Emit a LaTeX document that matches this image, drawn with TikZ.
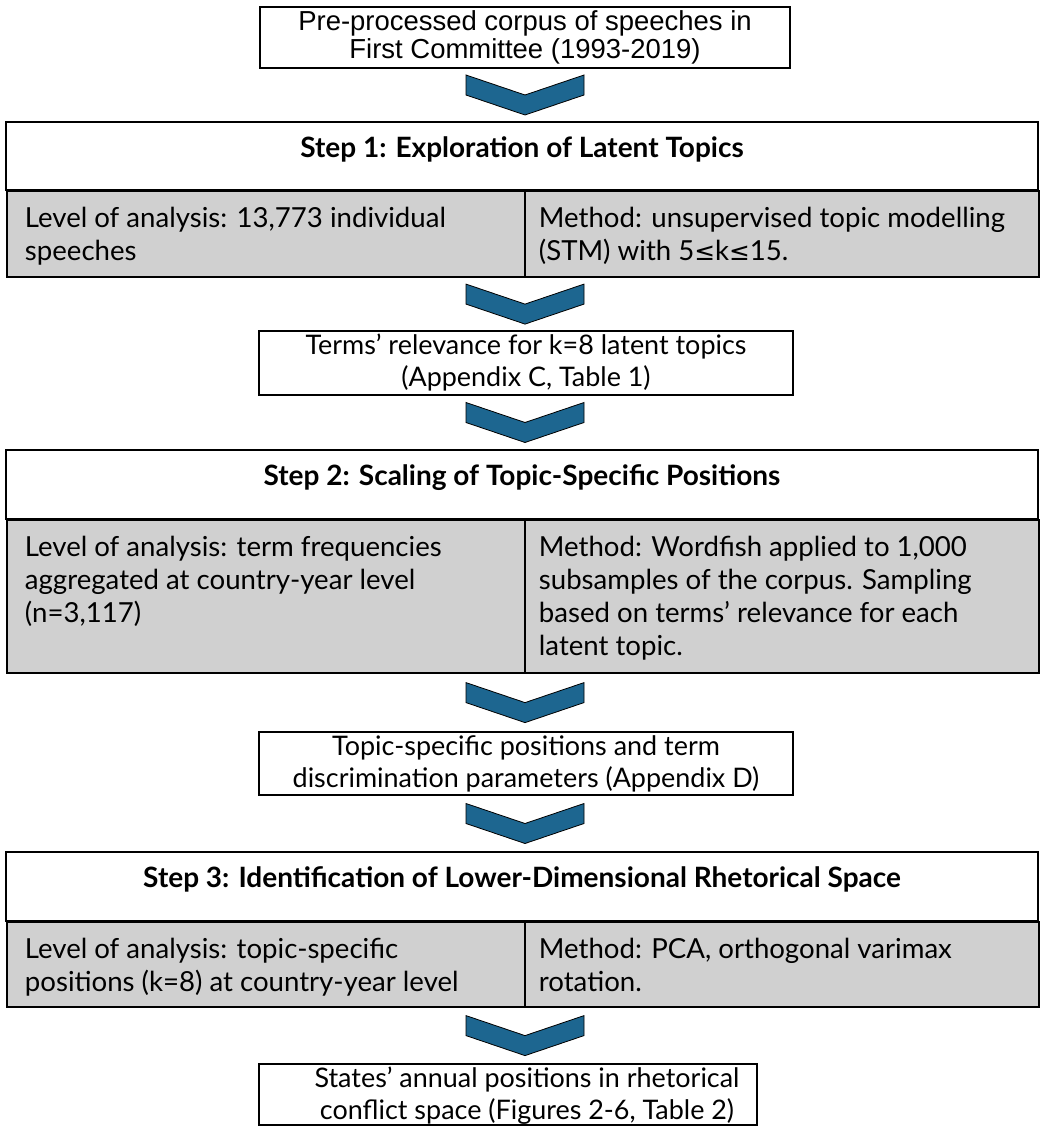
\documentclass[tikz,border=0pt]{standalone}
\usepackage{fontspec}
\setmainfont{Lato}
\newfontfamily\arialfont{Liberation Sans}
\newfontfamily\symfont[Scale=0.9]{DejaVu Sans}
\usetikzlibrary{calc}
\definecolor{chevblue}{HTML}{1D6690}
\definecolor{cellgray}{HTML}{D0D0D0}

\tikzset{
  plainbox/.style={draw, line width=1.8pt, align=center, inner sep=0pt, font=\fontsize{20.2}{24}\selectfont},
  boxtext/.style={align=center, inner sep=0pt, font=\fontsize{20.2}{24}\selectfont},
  hdrbox/.style={draw, line width=1.8pt, inner sep=0pt, text depth=14pt, font=\bfseries\fontsize{21}{24}\selectfont},
  cellbox/.style={draw, line width=1.8pt, fill=cellgray, inner sep=0pt, anchor=north west},
  celltext/.style={anchor=north west, align=left, inner xsep=14pt, inner ysep=12.5pt, font=\fontsize{20.7}{24.75}\selectfont},
  chevdown/.pic={
    \filldraw[fill=chevblue, draw=black, line width=0.6pt]
      (-59,-20) -- (0,0) -- (59,-20) -- (59,0) -- (0,20) -- (-59,0) -- cycle;
  }
}

\begin{document}
\begin{tikzpicture}[x=0.75pt, y=-0.75pt]
\useasboundingbox (0,0) rectangle (1040,1127);
\coordinate (axis) at (525,0);

% input
\node[plainbox, font=\arialfont\fontsize{20.6}{21.5}\selectfont, minimum width=397.5pt, minimum height=45.75pt] (corpus) at (525,37.5)
  {Pre-processed corpus of speeches in\\First Committee (1993-2019)};

% step 1
\node[hdrbox, minimum width=774pt, minimum height=51pt] (s1) at (522,156) {Step 1: Exploration of Latent Topics};
\node[cellbox, minimum width=388.5pt, minimum height=64.5pt] (s1l) at (6,190) {};
\node[cellbox, minimum width=385.5pt, minimum height=64.5pt] (s1r) at (524,190) {};
\node[celltext] (s1lt) at (s1l.north west) {Level of analysis: 13,773 individual\\speeches};
\node[celltext, inner xsep=11pt] (s1rt) at (s1r.north west) {Method: unsupervised topic modelling\\(STM) with 5{\symfont ≤}k{\symfont ≤}15.};

\node[plainbox, minimum width=400.5pt, minimum height=48pt] (terms) at (526,363)
  {Terms’ relevance for k=8 latent topics\\(Appendix C, Table 1)};

% step 2
\node[hdrbox, minimum width=774pt, minimum height=51.75pt] (s2) at (522,484.5) {Step 2: Scaling of Topic-Specific Positions};
\node[cellbox, minimum width=388.5pt, minimum height=114.75pt] (s2l) at (6,519) {};
\node[cellbox, minimum width=385.5pt, minimum height=114.75pt] (s2r) at (524,519) {};
\node[celltext] (s2lt) at (s2l.north west) {Level of analysis: term frequencies\\aggregated at country-year level\\(n=3,117)};
\node[celltext, inner xsep=11pt] (s2rt) at (s2r.north west) {Method: Wordfish applied to 1,000\\subsamples of the corpus. Sampling\\based on terms’ relevance for each\\latent topic.};

\node[plainbox, minimum width=400.5pt, minimum height=47.25pt] (params) at (526,763.5)
  {Topic-specific positions and term\\discrimination parameters (Appendix D)};

% step 3
\node[hdrbox, minimum width=774pt, minimum height=51.75pt] (s3) at (522,886.5) {Step 3: Identification of Lower-Dimensional Rhetorical Space};
\node[cellbox, minimum width=388.5pt, minimum height=63.75pt] (s3l) at (6,921) {};
\node[cellbox, minimum width=385.5pt, minimum height=63.75pt] (s3r) at (524,921) {};
\node[celltext] (s3lt) at (s3l.north west) {Level of analysis: topic-specific\\positions (k=8) at country-year level};
\node[celltext, inner xsep=11pt] (s3rt) at (s3r.north west) {Method: PCA, orthogonal varimax\\rotation.};

\node[plainbox, minimum width=373.5pt, minimum height=45.75pt] (states) at (508,1094.5) {};
\node[boxtext] (statest) at (527,1096) {States’ annual positions in rhetorical\\conflict space (Figures 2-6, Table 2)};

% chevrons
\pic at ($(axis |- corpus.south)!.5!(axis |- s1.north)$) {chevdown};
\pic at ($(axis |- s1l.south)!.5!(axis |- terms.north)$) {chevdown};
\pic at ($(axis |- terms.south)!.5!(axis |- s2.north)$) {chevdown};
\pic at ($(axis |- s2l.south)!.5!(axis |- params.north)$) {chevdown};
\pic at ($(axis |- params.south)!.5!(axis |- s3.north)$) {chevdown};
\pic at ($(axis |- s3l.south)!.5!(axis |- states.north)$) {chevdown};
\end{tikzpicture}
\end{document}
